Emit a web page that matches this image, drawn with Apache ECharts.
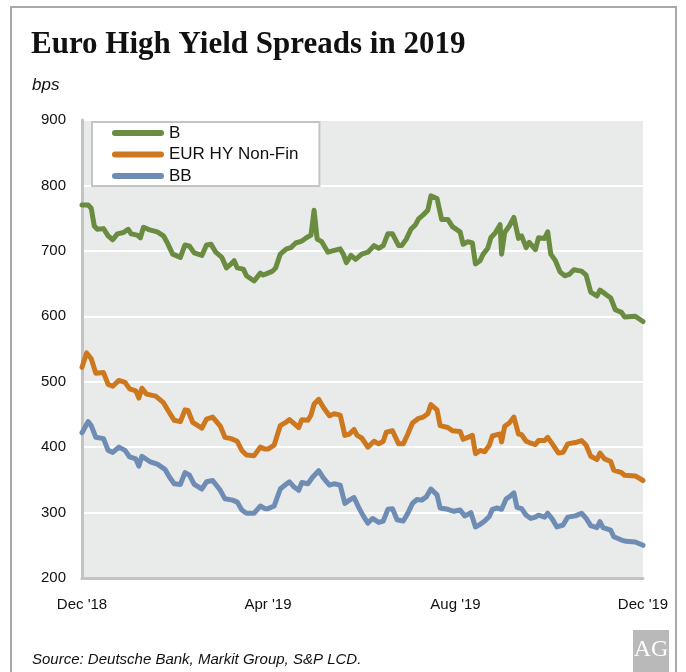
<!DOCTYPE html>
<html>
<head>
<meta charset="utf-8">
<script src="https://cdn.jsdelivr.net/npm/echarts@6/dist/echarts.min.js"></script>
<style>
  html, body { margin: 0; padding: 0; background: #ffffff; }
  #chart { width: 686px; height: 672px; }
</style>
</head>
<body>
<div id="chart"></div>
<script>
// Axis ticks: first day of Dec, Apr, Aug, Dec
const tickDates = ['2018-12-01', '2019-04-01', '2019-08-01', '2019-12-01'];
const tickLabels = ["Dec '18", "Apr '19", "Aug '19", "Dec '19"];

// B spread (bps)
const bDates = [
  '2018-12-01','2018-12-05','2018-12-07','2018-12-09','2018-12-11','2018-12-15','2018-12-18','2018-12-21','2018-12-24','2018-12-28','2018-12-31',
  '2019-01-02','2019-01-06','2019-01-08','2019-01-10','2019-01-14','2019-01-19','2019-01-23','2019-01-26','2019-01-29',
  '2019-02-03','2019-02-06','2019-02-09','2019-02-12','2019-02-17','2019-02-20','2019-02-23','2019-02-26',
  '2019-03-02','2019-03-05','2019-03-08','2019-03-10','2019-03-12','2019-03-16','2019-03-18','2019-03-23','2019-03-27','2019-03-29',
  '2019-04-01','2019-04-04','2019-04-06','2019-04-09','2019-04-13','2019-04-16','2019-04-19','2019-04-23','2019-04-26','2019-04-29',
  '2019-05-01','2019-05-03','2019-05-06','2019-05-10','2019-05-13','2019-05-18','2019-05-20','2019-05-22','2019-05-25','2019-05-28',
  '2019-06-01','2019-06-05','2019-06-09','2019-06-12','2019-06-15','2019-06-18','2019-06-21','2019-06-25','2019-06-27','2019-06-30',
  '2019-07-03','2019-07-06','2019-07-08','2019-07-11','2019-07-14','2019-07-16','2019-07-20','2019-07-23','2019-07-27','2019-07-30',
  '2019-08-04','2019-08-06','2019-08-09','2019-08-12','2019-08-14','2019-08-17','2019-08-19','2019-08-22','2019-08-24','2019-08-27','2019-08-30','2019-08-31',
  '2019-09-02','2019-09-05','2019-09-08','2019-09-11','2019-09-13','2019-09-16','2019-09-18','2019-09-22','2019-09-24','2019-09-28','2019-09-30',
  '2019-10-02','2019-10-05','2019-10-08','2019-10-11','2019-10-14','2019-10-17','2019-10-22','2019-10-25','2019-10-28',
  '2019-11-01','2019-11-03','2019-11-06','2019-11-10','2019-11-13','2019-11-17','2019-11-19','2019-11-26',
  '2019-12-01'
];
const bSpread = [
  770,770,765,738,733,734,723,717,726,728,733,
  726,724,720,736,732,729,723,710,695,
  690,709,707,697,693,709,710,698,
  690,674,680,685,674,672,662,654,666,663,
  666,669,674,695,703,705,712,715,720,724,
  762,718,714,698,700,703,695,682,693,687,
  695,698,708,704,708,726,726,708,708,718,
  733,740,749,755,762,784,780,748,748,737,
  729,710,714,712,680,685,695,704,720,728,740,695,
  728,738,751,719,723,705,713,702,720,719,729,
  695,685,668,662,664,671,669,663,637,
  631,640,635,628,610,606,599,600,
  592
];

// EUR HY Non-Fin spread (bps)
const hyDates = [
  '2018-12-01','2018-12-04','2018-12-07','2018-12-10','2018-12-15','2018-12-18','2018-12-21','2018-12-25','2018-12-29',
  '2019-01-01','2019-01-05','2019-01-07','2019-01-09','2019-01-12','2019-01-18','2019-01-23','2019-01-26','2019-01-30',
  '2019-02-03','2019-02-06','2019-02-08','2019-02-11','2019-02-17','2019-02-20','2019-02-24',
  '2019-03-01','2019-03-04','2019-03-08','2019-03-12','2019-03-15','2019-03-18','2019-03-23','2019-03-27','2019-03-30',
  '2019-04-01','2019-04-05','2019-04-09','2019-04-12','2019-04-15','2019-04-18','2019-04-21','2019-04-23','2019-04-27','2019-04-29',
  '2019-05-01','2019-05-04','2019-05-07','2019-05-11','2019-05-14','2019-05-18','2019-05-21','2019-05-24','2019-05-27','2019-05-29',
  '2019-06-01','2019-06-05','2019-06-09','2019-06-12','2019-06-15','2019-06-17','2019-06-21','2019-06-25','2019-06-28',
  '2019-07-01','2019-07-04','2019-07-08','2019-07-11','2019-07-14','2019-07-16','2019-07-20','2019-07-22','2019-07-27','2019-07-30',
  '2019-08-04','2019-08-06','2019-08-09','2019-08-12','2019-08-14','2019-08-17','2019-08-20','2019-08-23','2019-08-25','2019-08-28','2019-08-30','2019-08-31',
  '2019-09-02','2019-09-05','2019-09-08','2019-09-11','2019-09-13','2019-09-16','2019-09-18','2019-09-22','2019-09-24','2019-09-28','2019-09-30',
  '2019-10-03','2019-10-07','2019-10-10','2019-10-13','2019-10-18','2019-10-22','2019-10-25','2019-10-28',
  '2019-11-01','2019-11-03','2019-11-06','2019-11-10','2019-11-12','2019-11-17','2019-11-19','2019-11-26',
  '2019-12-01'
];
const hySpread = [
  522,544,535,513,514,496,493,502,499,
  489,486,475,490,481,478,468,456,441,
  439,457,456,438,429,443,446,
  432,415,413,409,395,388,387,400,397,
  397,403,433,437,442,436,430,442,441,449,
  466,473,461,448,451,449,418,420,427,418,
  414,400,409,405,409,423,425,405,405,
  420,437,444,446,451,465,457,433,430,425,
  424,412,415,418,390,395,393,403,417,419,420,408,
  432,437,446,420,419,409,407,404,410,410,415,
  405,391,392,405,407,410,403,386,
  381,391,382,378,365,361,357,356,
  349
];

// BB spread (bps)
const bbDates = [
  '2018-12-01','2018-12-05','2018-12-07','2018-12-10','2018-12-15','2018-12-18','2018-12-21','2018-12-25','2018-12-29',
  '2019-01-01','2019-01-05','2019-01-07','2019-01-09','2019-01-14','2019-01-19','2019-01-24','2019-01-27','2019-01-30',
  '2019-02-03','2019-02-06','2019-02-09','2019-02-12','2019-02-17','2019-02-20','2019-02-24',
  '2019-03-01','2019-03-04','2019-03-09','2019-03-12','2019-03-15','2019-03-18','2019-03-23','2019-03-27','2019-03-30',
  '2019-04-01','2019-04-05','2019-04-09','2019-04-12','2019-04-15','2019-04-18','2019-04-21','2019-04-23','2019-04-27','2019-04-30',
  '2019-05-04','2019-05-07','2019-05-11','2019-05-14','2019-05-18','2019-05-21','2019-05-24','2019-05-27','2019-05-30',
  '2019-06-02','2019-06-05','2019-06-08','2019-06-12','2019-06-15','2019-06-18','2019-06-21','2019-06-24','2019-06-28',
  '2019-07-01','2019-07-04','2019-07-07','2019-07-10','2019-07-13','2019-07-16','2019-07-20','2019-07-22','2019-07-27','2019-07-31',
  '2019-08-04','2019-08-07','2019-08-09','2019-08-11','2019-08-14','2019-08-17','2019-08-20','2019-08-23','2019-08-25','2019-08-28','2019-08-31',
  '2019-09-03','2019-09-05','2019-09-08','2019-09-10','2019-09-13','2019-09-16','2019-09-19','2019-09-22','2019-09-24','2019-09-28','2019-09-30',
  '2019-10-03','2019-10-06','2019-10-10','2019-10-13','2019-10-18','2019-10-22','2019-10-25','2019-10-28',
  '2019-11-01','2019-11-03','2019-11-05','2019-11-10','2019-11-12','2019-11-17','2019-11-20','2019-11-26',
  '2019-12-01'
];
const bbSpread = [
  422,439,433,415,413,395,392,400,395,
  385,382,371,386,378,374,366,354,344,
  343,361,357,343,336,347,349,
  334,321,319,316,304,299,299,310,306,
  306,310,336,342,347,339,334,346,344,354,
  364,353,342,344,342,314,319,323,308,
  295,284,291,285,287,305,306,289,287,
  299,314,320,319,324,336,327,307,305,302,
  304,295,297,300,278,282,287,294,305,307,305,
  321,324,330,308,306,296,291,293,296,293,299,
  290,278,281,293,295,299,291,280,
  277,286,277,273,263,258,256,255,
  250
];

// Days counted from 1 Dec 2018
const ORIGIN = Date.UTC(2018, 11, 1);
function dayOf(s) {
  const [y, m, d] = s.split('-').map(Number);
  return (Date.UTC(y, m - 1, d) - ORIGIN) / 86400000;
}
function toPairs(dates, values) {
  return dates.map((d, i) => [dayOf(d), values[i]]);
}
const tickDays = tickDates.map(dayOf);

const GREEN = '#698c41';
const ORANGE = '#cd781e';
const BLUE = '#6e8cb4';
const FONT = 'Liberation Sans';
const legendIcon = 'path://M3,0L49,0A3,3,0,0,1,49,6L3,6A3,3,0,0,1,3,0Z';

const chart = echarts.init(document.getElementById('chart'), null, { renderer: 'canvas' });

function lineSeries(name, color, data) {
  return {
    name: name,
    type: 'line',
    data: data,
    symbol: 'none',
    smooth: false,
    silent: true,
    lineStyle: { color: color, width: 5, cap: 'round', join: 'round' },
    itemStyle: { color: color }
  };
}

chart.setOption({
  animation: false,
  backgroundColor: '#ffffff',
  title: [
    {
      text: 'Euro High Yield Spreads in 2019',
      left: 31, top: 29, padding: 0,
      textStyle: { fontFamily: 'Liberation Serif', fontWeight: 'bold', fontSize: 31, color: '#111111' }
    },
    {
      text: 'bps',
      left: 32, top: 77, padding: 0,
      textStyle: { fontFamily: FONT, fontStyle: 'italic', fontWeight: 'normal', fontSize: 17, color: '#111111' }
    },
    {
      text: 'Source: Deutsche Bank, Markit Group, S&P LCD.',
      left: 32, top: 652, padding: 0,
      textStyle: { fontFamily: FONT, fontStyle: 'italic', fontWeight: 'normal', fontSize: 15, color: '#111111' }
    }
  ],
  legend: {
    orient: 'vertical',
    left: 92, top: 122,
    padding: [2, 21, 1, 20],
    itemGap: 3.5,
    itemWidth: 52, itemHeight: 6,
    icon: legendIcon,
    backgroundColor: '#ffffff',
    borderColor: '#c4c4c4',
    borderWidth: 2,
    selectedMode: false,
    textStyle: { fontFamily: FONT, fontSize: 17, lineHeight: 18, color: '#111111' },
    data: ['B', 'EUR HY Non-Fin', 'BB']
  },
  grid: {
    left: 82, right: 43, top: 120, bottom: 94,
    show: true,
    backgroundColor: '#e9ebea',
    borderWidth: 0
  },
  xAxis: {
    type: 'value',
    min: tickDays[0],
    max: tickDays[tickDays.length - 1],
    axisLine: { show: true, lineStyle: { color: '#c3c3c3', width: 3 } },
    axisTick: { show: false },
    splitLine: { show: false },
    axisLabel: {
      customValues: tickDays,
      margin: 19,
      fontFamily: FONT, fontSize: 15, color: '#111111',
      formatter: function (v) {
        const i = tickDays.indexOf(Math.round(v));
        return i >= 0 ? tickLabels[i] : '';
      }
    }
  },
  yAxis: {
    type: 'value',
    min: 200, max: 900, interval: 100,
    axisLine: { show: true, lineStyle: { color: '#c3c3c3', width: 3 } },
    axisTick: { show: false },
    splitLine: { show: true, lineStyle: { color: '#ffffff', width: 2 } },
    axisLabel: { margin: 16, fontFamily: FONT, fontSize: 15, color: '#111111' }
  },
  series: [
    lineSeries('B', GREEN, toPairs(bDates, bSpread)),
    lineSeries('EUR HY Non-Fin', ORANGE, toPairs(hyDates, hySpread)),
    lineSeries('BB', BLUE, toPairs(bbDates, bbSpread))
  ],
  graphic: [
    {
      type: 'rect', z: -1, silent: true,
      shape: { x: 11, y: 7, width: 665, height: 700 },
      style: { fill: 'none', stroke: '#a8a8a8', lineWidth: 2 }
    },
    {
      type: 'group', left: 633, top: 630, silent: true,
      children: [
        { type: 'rect', shape: { x: 0, y: 0, width: 36, height: 42 }, style: { fill: '#b9b9b9' } },
        { type: 'text', x: 18, y: 20,
          style: { text: 'AG', fill: '#ffffff', font: 'normal 24px "Liberation Serif"', align: 'center', verticalAlign: 'middle' } }
      ]
    }
  ]
});
</script>
</body>
</html>
